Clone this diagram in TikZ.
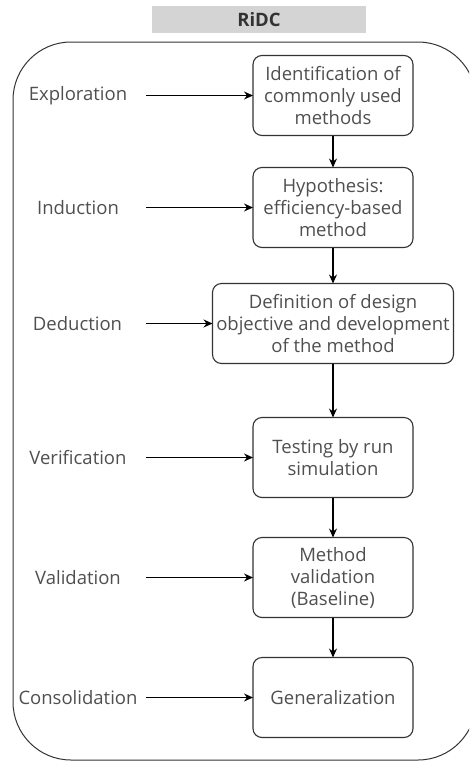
\documentclass[tikz,border=0pt]{standalone}
\usepackage{fontspec}
\setmainfont{Open Sans}
\usepackage{tikz}
\usetikzlibrary{arrows.meta,positioning}

\definecolor{txtgray}{HTML}{4F4F4F}
\definecolor{titlegray}{HTML}{D4D4D4}

\begin{document}
\begin{tikzpicture}[x=1pt,y=1pt,
  >={Stealth[length=9pt,width=8pt]},
  step node/.style={rectangle,rounded corners=9pt,draw=black!80,line width=1.1pt,
    minimum width=160pt,minimum height=80pt,inner xsep=1pt,outer sep=0pt,align=center,
    font=\fontsize{18.5}{22}\selectfont,text=txtgray},
  phase node/.style={minimum width=136pt,inner sep=0pt,outer sep=0pt,
    font=\fontsize{18.5}{22}\selectfont,text=txtgray},
  flow/.style={->,line width=1.1pt}]
  \useasboundingbox (0,0) rectangle (469,-761);
  \begin{scope}
  \clip (0,0) rectangle (469,-761);
  \draw[draw=black!80,line width=1pt,rounded corners=58pt] (13,-42) rectangle (476,-760);
  \end{scope}

  \node[fill=titlegray,minimum width=214pt,minimum height=27pt,inner sep=0pt,
    text=black!80,font=\fontsize{18.5}{20}\selectfont\bfseries] (title) at (259,-19.5) {RiDC};

  \node[step node] (b1) at (333,-95.5) {Identification of\\commonly used\\methods};
  \node[step node] (b2) [below=32pt of b1] {Hypothesis:\\efficiency-based\\method};
  \node[step node,minimum width=241pt] (b3) [below=36pt of b2] {Definition of design\\objective and development\\of the method};
  \node[step node] (b4) [below=54pt of b3] {Testing by run\\simulation};
  \node[step node] (b5) [below=40pt of b4] {Method\\validation\\(Baseline)};
  \node[step node] (b6) [below=40pt of b5] {Generalization};

  \node[phase node] (l1) [left=107pt of b1] {Exploration};
  \node[phase node] (l2) [left=107pt of b2] {Induction};
  \node[phase node] (l3) [left=67pt of b3] {Deduction};
  \node[phase node] (l4) [left=107pt of b4] {Verification};
  \node[phase node] (l5) [left=107pt of b5] {Validation};
  \node[phase node] (l6) [left=107pt of b6] {Consolidation};

  \foreach \i/\j in {1/2,2/3,3/4,4/5,5/6}
    \draw[flow] (b\i) -- (b\j);
  \foreach \i in {1,...,6}
    \draw[flow] (l\i) -- (b\i);
\end{tikzpicture}
\end{document}
